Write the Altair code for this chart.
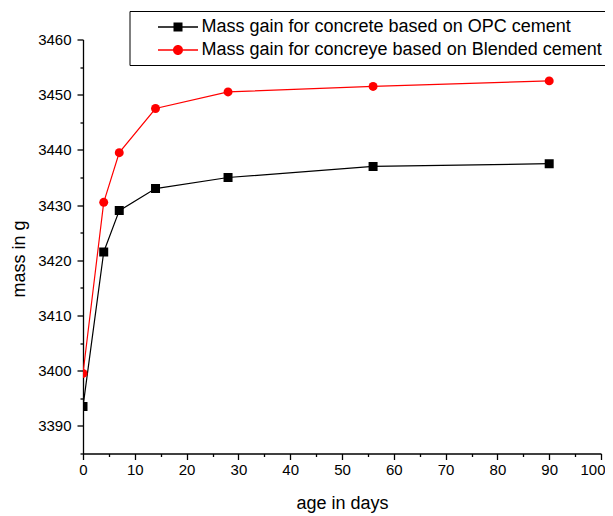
import altair as alt
import pandas as pd

days = [0, 4, 7, 14, 28, 56, 90]
opc_mass = [3393.5, 3421.5, 3429, 3433, 3435, 3437, 3437.5]
blended_mass = [3399.5, 3430.5, 3439.5, 3447.5, 3450.5, 3451.5, 3452.5]
series_names = [
    "Mass gain for concrete based on OPC cement",
    "Mass gain for concreye based on Blended cement",
]
series_colors = ["#000000", "#ff0000"]
x_major = list(range(0, 101, 10))
x_minor = list(range(5, 100, 10))
y_major = list(range(3390, 3461, 10))
y_minor = list(range(3385, 3460, 10))

df = pd.DataFrame({
    "day": days + days,
    "mass": opc_mass + blended_mass,
    "series": [series_names[0]] * len(days) + [series_names[1]] * len(days),
})

FONT = "Liberation Sans"

# legend symbols: short line with marker in the middle
sq_path = ("M1.25,-0.065H2.8V0.065H1.25Z M3.7,-0.065H5.25V0.065H3.7Z "
           "M2.8,-0.45H3.7V0.45H2.8Z")
ci_path = ("M1.25,-0.065H2.75V0.065H1.25Z M3.75,-0.065H5.25V0.065H3.75Z "
           "M3.75,0A0.5,0.5 0 1,1 2.75,0A0.5,0.5 0 1,1 3.75,0Z")

x_scale = alt.Scale(domain=[0, 100], nice=False, zero=False)
y_scale = alt.Scale(domain=[3385, 3460], nice=False, zero=False)
color_scale = alt.Scale(domain=series_names, range=series_colors)

x_major_axis = alt.Axis(values=x_major, orient="bottom", title="age in days", format="d",
                        tickSize=6, labelPadding=2.5, titleX=259, titleY=54.5,
                        titleBaseline="alphabetic", titleAlign="center",
                        labelAlign={"condition": {"test": "datum.value == 100", "value": "right"},
                                    "value": "center"},
                        labelOffset={"condition": {"test": "datum.value == 100", "value": 4},
                                     "value": 0})
y_major_axis = alt.Axis(values=y_major, orient="left", title="mass in g", format="d",
                        tickSize=6, labelPadding=6, titleX=-59, titleY=219,
                        titleBaseline="alphabetic", titleAlign="center", titleAngle=270)
x_minor_axis = alt.Axis(values=x_minor, orient="bottom", title=None, labels=False,
                        domain=False, tickSize=3)
y_minor_axis = alt.Axis(values=y_minor, orient="left", title=None, labels=False,
                        domain=False, tickSize=3)

base = alt.Chart(df)


def series_layers(name, color, marker, size, with_axes):
    sub = base.transform_filter(alt.datum.series == name)
    xa = x_major_axis if with_axes else None
    ya = y_major_axis if with_axes else None
    line = sub.mark_line(strokeWidth=1.2, color=color, clip=True).encode(
        x=alt.X("day:Q", scale=x_scale, axis=xa),
        y=alt.Y("mass:Q", scale=y_scale, axis=ya),
    )
    pts = sub.mark_point(shape=marker, size=size, filled=True, opacity=1,
                         color=color, clip=True).encode(
        x=alt.X("day:Q", scale=x_scale, axis=None),
        y=alt.Y("mass:Q", scale=y_scale, axis=None),
    )
    return [line, pts]


leg = alt.Legend(title=None, orient="none", legendX=46.5, legendY=-28.5,
                 strokeColor="black", fillColor="white", padding=6, rowPadding=4,
                 labelFont=FONT, labelFontSize=18, labelColor="black",
                 symbolSize=400, symbolStrokeWidth=0, labelOffset=46,
                 symbolOpacity=1, labelLimit=1000)

legend_layer = base.mark_point(filled=True, opacity=0).encode(
    x=alt.X("day:Q", scale=x_scale, axis=x_minor_axis),
    y=alt.Y("mass:Q", scale=y_scale, axis=y_minor_axis),
    color=alt.Color("series:N", scale=color_scale, legend=leg),
    shape=alt.Shape("series:N", scale=alt.Scale(domain=series_names, range=[sq_path, ci_path]),
                    legend=leg),
)

layers = (series_layers(series_names[0], series_colors[0], "square", 81, True)
          + series_layers(series_names[1], series_colors[1], "circle", 80, False)
          + [legend_layer])

chart = alt.layer(*layers).resolve_axis(
    x="independent", y="independent"
).properties(
    width=518, height=414,
    autosize=alt.AutoSizeParams(type="none"),
    padding={"left": 75, "top": 31.5, "right": 4, "bottom": 62},
    background="white",
).configure_view(stroke=None).configure_axis(
    labelFont=FONT, labelFontSize=15, labelColor="black",
    titleFont=FONT, titleFontSize=18, titleColor="black", titleFontWeight="normal",
    domainColor="black", domainWidth=1.3, tickColor="black", tickWidth=1.3,
    grid=False, labelFlush=False,
)

chart.save("out.html", embed_options={"renderer": "svg", "actions": False})
